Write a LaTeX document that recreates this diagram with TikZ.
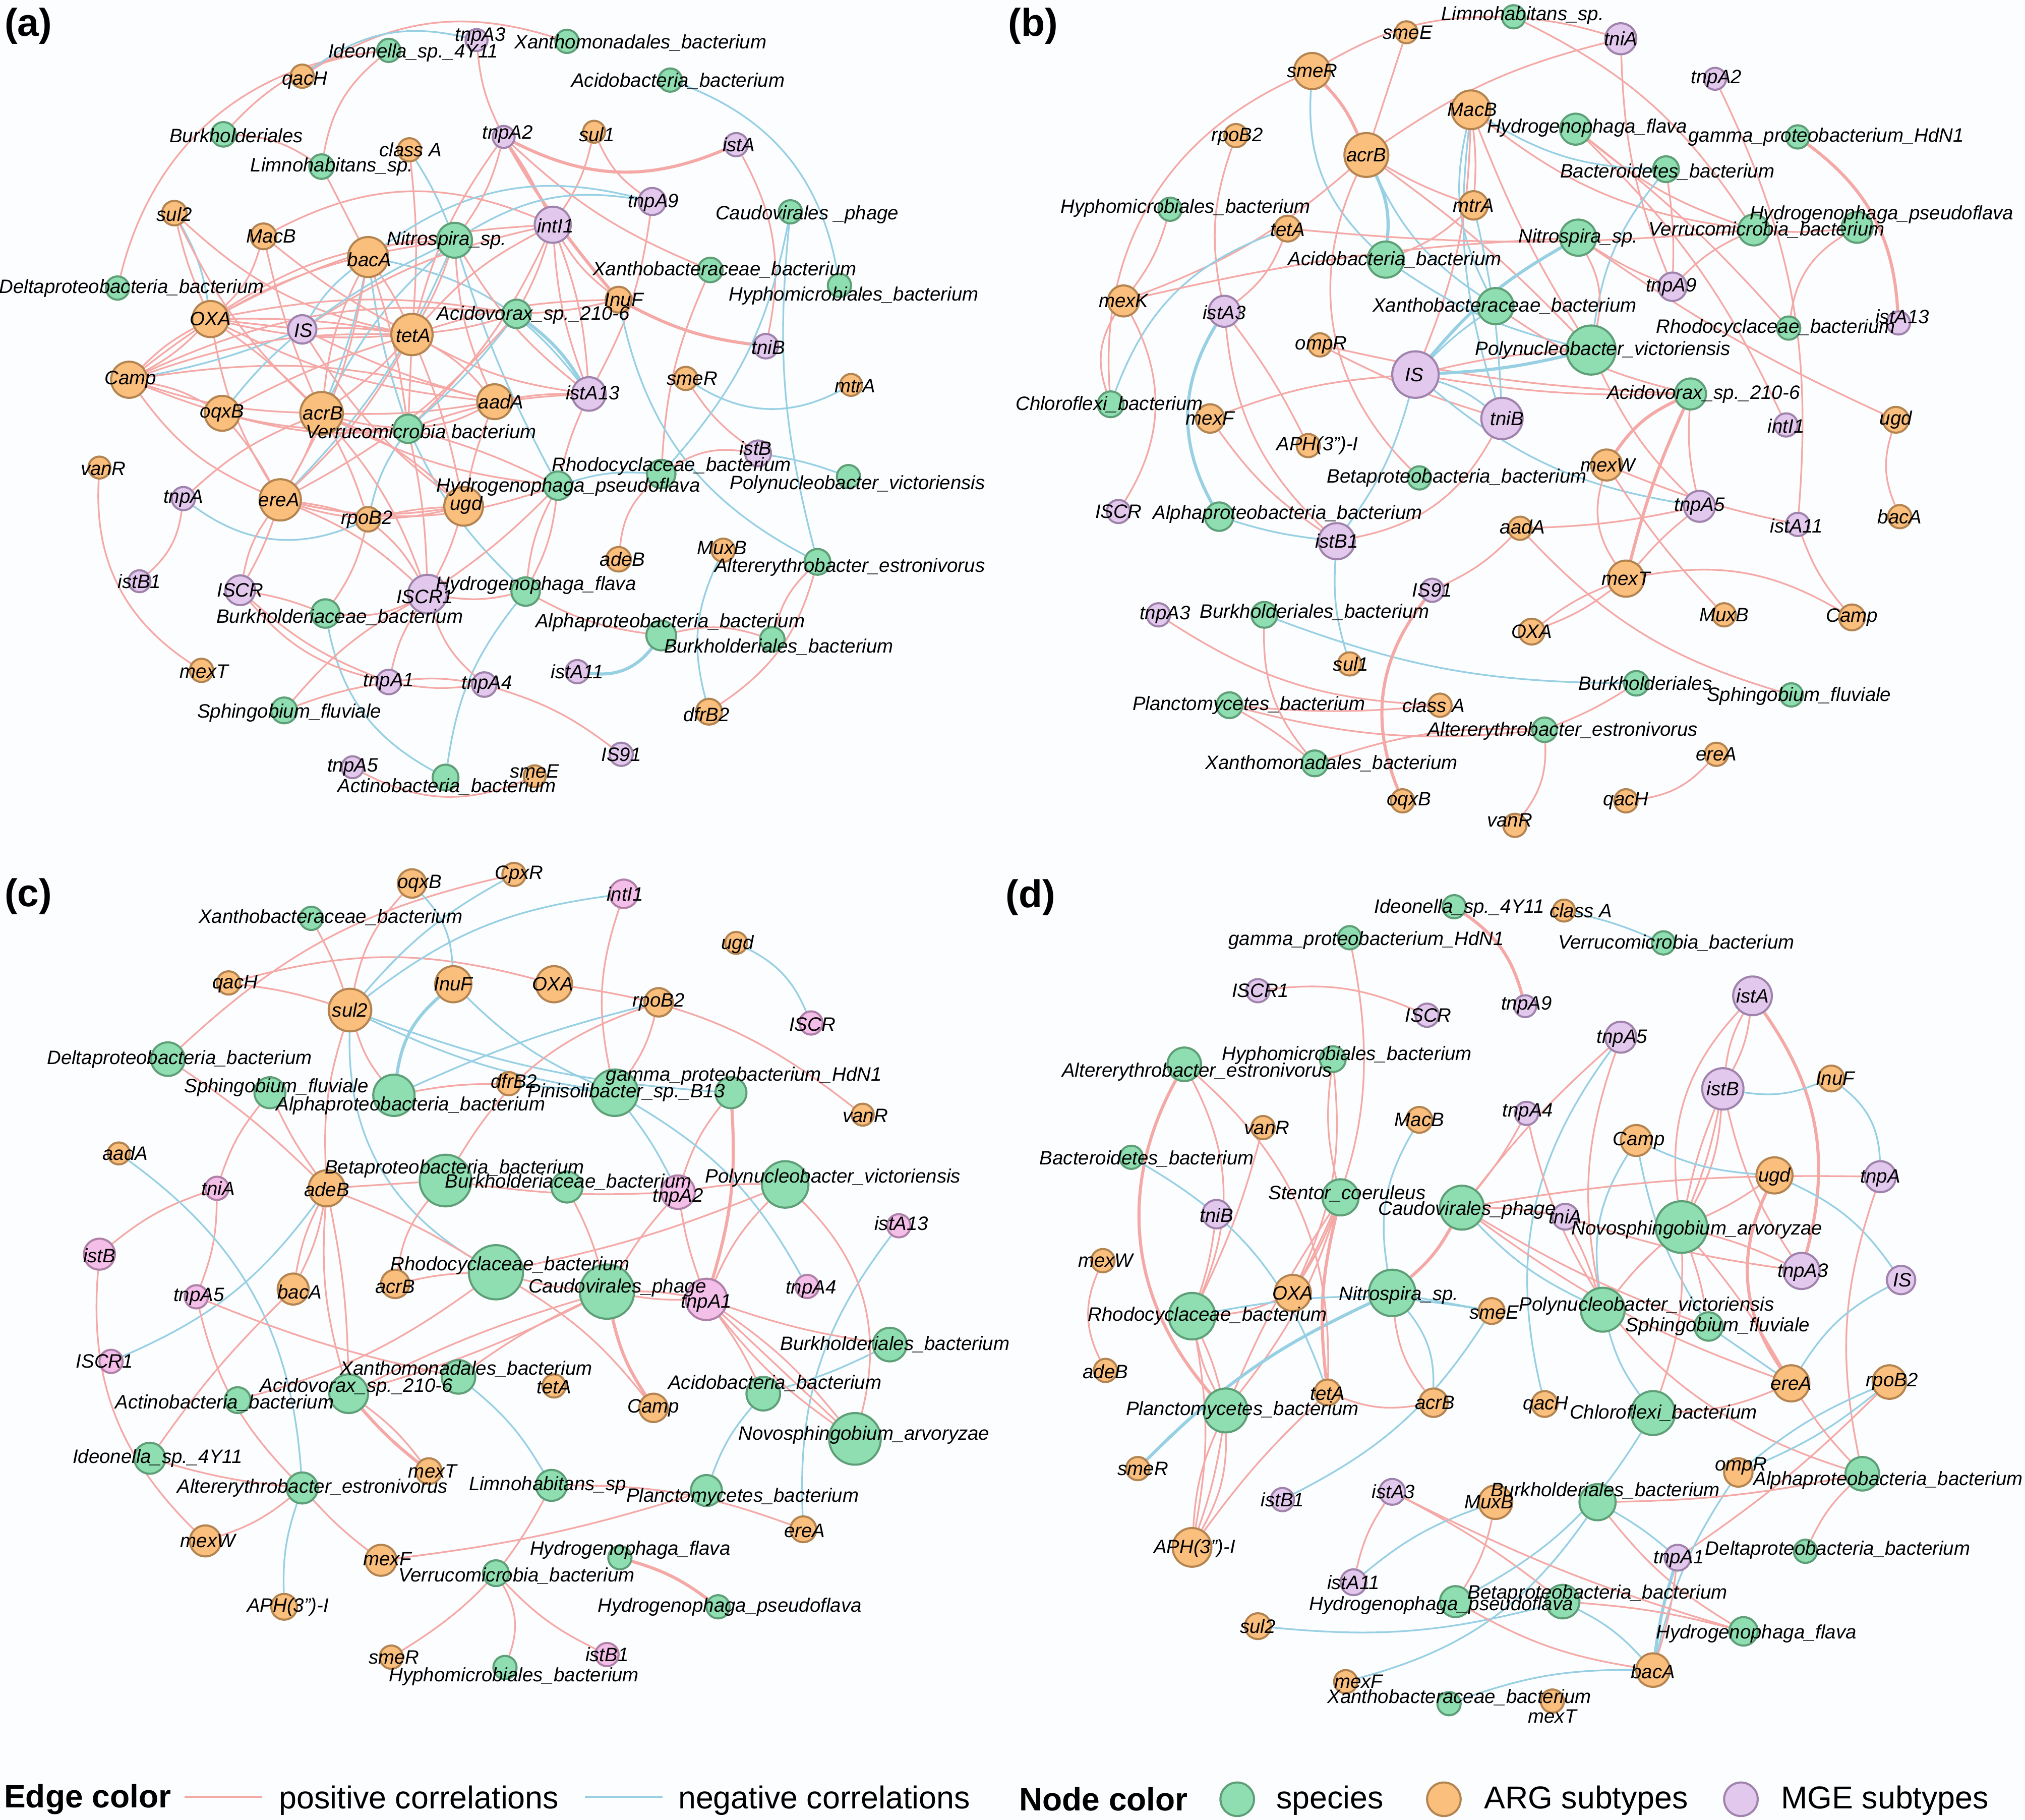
\documentclass[tikz,border=0pt]{standalone}
\usepackage{fontspec}
\setmainfont{Liberation Sans}
\definecolor{spf}{HTML}{8EDEB1}\definecolor{spb}{HTML}{5E9F78}
\definecolor{argf}{HTML}{FABE7D}\definecolor{argb}{HTML}{B48450}
\definecolor{mgef}{HTML}{E2C8EC}\definecolor{mgeb}{HTML}{A083AC}
\definecolor{mgecf}{HTML}{F3BEE8}\definecolor{mgecb}{HTML}{B080A8}
\definecolor{posc}{HTML}{F5A9A6}\definecolor{negc}{HTML}{97CFE3}
\definecolor{bgc}{HTML}{FBFDFE}
\pgfdeclarelayer{bglayer}\pgfdeclarelayer{edgelayer}\pgfdeclarelayer{labellayer}
\pgfsetlayers{bglayer,edgelayer,main,labellayer}
\newcommand\lblfont{\fontsize{15}{15}\selectfont\itshape}
\tikzset{
 base/.style={circle,inner sep=0pt,line width=1.6pt},
 spS/.style={base,draw=spb,fill=spf},
 spA/.style={base,draw=argb,fill=argf},
 spM/.style={base,draw=mgeb,fill=mgef},
 spMc/.style={base,draw=mgecb,fill=mgecf},
 lbl/.style={font=\lblfont,inner sep=0pt},
 pe/.style={draw=posc,line width=1.3pt},
 ne/.style={draw=negc,line width=1.3pt},
 pet/.style={draw=posc,line width=2.4pt},
 net/.style={draw=negc,line width=2.4pt},
 legtxt/.style={font=\fontsize{24.5}{25}\selectfont,anchor=west,inner sep=0pt},
 legbold/.style={font=\fontsize{25}{25}\selectfont\bfseries,anchor=west,inner sep=0pt},
 panel/.style={font=\fontsize{30}{30}\selectfont\bfseries,inner sep=0pt}
}
\newcommand\nd[8]{%
 \node[#2,minimum size=#5pt] (#1) at (#3,#4) {};
 \begin{pgfonlayer}{labellayer}\node[lbl] (#1-l) at (#7,#8) {#6};\end{pgfonlayer}}
\newcommand\eP[3]{\draw[pe] (#1) to[bend left=#3] (#2);}
\newcommand\eN[3]{\draw[ne] (#1) to[bend left=#3] (#2);}
\newcommand\ePT[3]{\draw[pet] (#1) to[bend left=#3] (#2);}
\newcommand\eNT[3]{\draw[net] (#1) to[bend left=#3] (#2);}
\begin{document}
\begin{tikzpicture}[x=1pt,y=-1pt]
\useasboundingbox (0,0) rectangle (1568,1409);
\begin{pgfonlayer}{bglayer}\fill[bgc] (0,0) rectangle (1568,1409);\end{pgfonlayer}
% ---------------- panel (a) ----------------
\node[panel] (pa) at (22,20) {(a)};
\nd{atnpAiii}{spM}{369}{31}{17}{tnpA3}{372}{28}
\nd{aIdeo}{spS}{301}{39}{18}{Ideonella\_sp.\_4Y11}{320}{41}
\nd{aXanthom}{spS}{439}{32}{18}{Xanthomonadales\_bacterium}{496}{33}
\nd{aqacH}{spA}{234}{59}{18}{qacH}{236}{62}
\nd{aAcido}{spS}{519}{62}{18}{Acidobacteria\_bacterium}{525}{63}
\nd{aBurkh}{spS}{173}{104}{19}{Burkholderiales}{183}{105}
\nd{aclassA}{spA}{317}{116}{18}{class A}{318}{116}
\nd{atnpAii}{spM}{390}{106}{17}{tnpA2}{393}{104}
\nd{asuli}{spA}{460}{102}{17}{sul1}{462}{104}
\nd{aistA}{spM}{570}{112}{18}{istA}{572}{112}
\nd{aLimno}{spS}{249}{129}{19}{Limnohabitans\_sp.}{257}{129}
\nd{atnpAix}{spM}{505}{156}{21}{tnpA9}{506}{157}
\nd{asulii}{spA}{135}{165}{19}{sul2}{135}{166}
\nd{aMacB}{spA}{204}{183}{20}{MacB}{210}{183}
\nd{aintI}{spM}{428}{174}{28}{intI1}{430}{175}
\nd{aCaudo}{spS}{612}{164}{18}{Caudovirales \_phage}{625}{166}
\nd{abacA}{spA}{285}{199}{31}{bacA}{286}{201}
\nd{aNitro}{spS}{352}{186}{27}{Nitrospira\_sp.}{346}{186}
\nd{aDelta}{spS}{91}{223}{18}{Deltaproteobacteria\_bacterium}{102}{223}
\nd{aXanthob}{spS}{550}{209}{19}{Xanthobacteraceae\_bacterium}{561}{209}
\nd{aHyph}{spS}{650}{221}{18}{Hyphomicrobiales\_bacterium}{661}{229}
\nd{aOXA}{spA}{163}{247}{28}{OXA}{163}{247}
\nd{aIS}{spM}{234}{255}{22}{IS}{235}{256}
\nd{atetA}{spA}{319}{259}{32}{tetA}{320}{260}
\nd{aAcidov}{spS}{400}{243}{22}{Acidovorax\_sp.\_210-6}{413}{244}
\nd{aInuF}{spA}{479}{232}{20}{InuF}{483}{232}
\nd{atniB}{spM}{593}{268}{19}{tniB}{595}{269}
\nd{aCamp}{spA}{100}{294}{28}{Camp}{101}{294}
\nd{aoqxB}{spA}{172}{320}{27}{oqxB}{172}{320}
\nd{aacrB}{spA}{249}{320}{33}{acrB}{250}{320}
\nd{aaadA}{spA}{383}{311}{27}{aadA}{388}{311}
\nd{aistAxiii}{spM}{456}{305}{26}{istA13}{459}{304}
\nd{asmeR}{spA}{531}{293}{18}{smeR}{536}{293}
\nd{amtrA}{spA}{659}{298}{17}{mtrA}{662}{299}
\nd{aVerru}{spS}{316}{332}{22}{Verrucomicrobia bacterium}{326}{334}
\nd{avanR}{spA}{77}{362}{17}{vanR}{80}{363}
\nd{atnpA}{spM}{142}{386}{18}{tnpA}{142}{386}
\nd{aereA}{spA}{217}{387}{32}{ereA}{216}{387}
\nd{arpoBii}{spA}{285}{402}{19}{rpoB2}{284}{402}
\nd{augd}{spA}{359}{392}{30}{ugd}{361}{391}
\nd{aHpseudo}{spS}{432}{376}{22}{Hydrogenophaga\_pseudoflava}{440}{377}
\nd{aRhodo}{spS}{512}{367}{22}{Rhodocyclaceae\_bacterium}{520}{361}
\nd{aistB}{spM}{587}{351}{20}{istB}{585}{347}
\nd{aPoly}{spS}{657}{369}{18}{Polynucleobacter\_victoriensis}{664}{375}
\nd{aistBi}{spM}{108}{450}{17}{istB1}{108}{450}
\nd{aISCR}{spM}{186}{457}{23}{ISCR}{186}{457}
\nd{aISCRi}{spM}{331}{460}{30}{ISCR1}{329}{462}
\nd{aBurkhc}{spS}{252}{475}{22}{Burkholderiaceae\_bacterium}{263}{478}
\nd{aHflava}{spS}{407}{458}{22}{Hydrogenophaga\_flava}{415}{453}
\nd{aadeB}{spA}{479}{433}{19}{adeB}{482}{433}
\nd{aMuxB}{spA}{560}{426}{18}{MuxB}{559}{424}
\nd{aAlter}{spS}{633}{435}{20}{Altererythrobacter\_estronivorus}{658}{439}
\nd{aAlpha}{spS}{512}{492}{23}{Alphaproteobacteria\_bacterium}{519}{482}
\nd{aBurkhb}{spS}{598}{495}{19}{Burkholderiales\_bacterium}{603}{501}
\nd{amexT}{spA}{156}{519}{18}{mexT}{158}{520}
\nd{atnpAi}{spM}{301}{528}{19}{tnpA1}{301}{528}
\nd{atnpAiv}{spM}{375}{530}{19}{tnpA4}{377}{530}
\nd{aistAxi}{spM}{447}{520}{18}{istA11}{447}{520}
\nd{adfrBii}{spA}{549}{551}{20}{dfrB2}{547}{553}
\nd{aSphingo}{spS}{220}{550}{20}{Sphingobium\_fluviale}{224}{552}
\nd{aISxci}{spM}{481}{584}{18}{IS91}{481}{584}
\nd{atnpAv}{spM}{273}{594}{17}{tnpA5}{273}{594}
\nd{aActino}{spS}{345}{602}{20}{Actinobacteria\_bacterium}{346}{609}
\nd{asmeE}{spA}{414}{601}{17}{smeE}{414}{597}
\begin{pgfonlayer}{edgelayer}
\eP{aDelta}{aIdeo}{35}\eP{aBurkh}{aIdeo}{20}\eP{aqacH}{aXanthom}{25}\eN{aqacH}{atnpAiii}{25}
\eN{aAcido}{aHyph}{30}\eP{aIdeo}{aLimno}{-20}\eP{atnpAiii}{atnpAii}{-10}\eP{aBurkh}{aLimno}{15}
\eP{aLimno}{abacA}{0}\eN{aclassA}{aNitro}{5}\eP{aclassA}{atetA}{5}
\eN{asulii}{aOXA}{10}\eP{asulii}{aOXA}{-5}\eP{asulii}{atetA}{-15}
\eP{aMacB}{aOXA}{15}\eP{aMacB}{aacrB}{-5}\eP{aMacB}{aintI}{25}
\ePT{atnpAii}{aistA}{-25}\eP{aistA}{atniB}{20}\ePT{aInuF}{atniB}{-10}
\eP{asuli}{atnpAix}{-15}\eP{asuli}{aintI}{10}
\eP{atnpAii}{aintI}{5}\eP{atnpAii}{aXanthob}{-10}\ePT{atnpAii}{aInuF}{-5}
\eN{aNitro}{atnpAix}{20}\eN{abacA}{atnpAix}{25}\eP{atnpAix}{aistAxiii}{10}
\eP{aXanthob}{aRhodo}{-10}\eP{aRhodo}{aadeB}{-20}\eP{asmeR}{aistB}{-10}
\eN{aInuF}{aAlter}{-25}\eN{aistB}{aPoly}{5}\eP{aRhodo}{aistB}{20}
\eN{aHpseudo}{aRhodo}{10}\eN{aCaudo}{aRhodo}{15}\eN{asmeR}{amtrA}{-30}\eN{aCaudo}{aAlter}{-10}
\eN{aMuxB}{adfrBii}{-20}\eP{aAlter}{adfrBii}{20}\eP{aAlter}{aBurkhb}{-15}\eP{aAlpha}{aBurkhb}{15}
\eNT{aAlpha}{aistAxi}{30}\eP{aHflava}{aAlpha}{-10}\eP{atnpAiv}{aISxci}{10}
\eP{aHpseudo}{aHflava}{10}\eP{aHpseudo}{aHflava}{-10}
\eN{aHflava}{aActino}{-15}\eN{aBurkhc}{aActino}{-25}\eP{atnpAv}{asmeE}{-25}
\eP{avanR}{amexT}{-30}\eP{atnpA}{aistBi}{20}\eN{atnpA}{arpoBii}{-30}\eP{atnpA}{aacrB}{10}
\eP{aereA}{aISCR}{5}\eP{aereA}{aISCR}{-12}
\eP{aISCR}{atnpAi}{-10}\eP{aISCR}{atnpAi}{-18}\eP{aISCR}{aBurkhc}{5}
\eP{aSphingo}{aISCRi}{10}\eP{aSphingo}{atnpAi}{5}
\eP{atnpAi}{atnpAiv}{8}\eP{atnpAi}{atnpAiv}{-8}\eP{atnpAi}{aISCRi}{10}\eP{aISCRi}{atnpAiv}{-15}
\eP{aBurkhc}{arpoBii}{-10}\eP{arpoBii}{aISCRi}{10}\eP{aereA}{arpoBii}{-5}\eP{aereA}{arpoBii}{5}
\eP{arpoBii}{augd}{5}\eP{arpoBii}{augd}{-5}\eP{augd}{aISCRi}{5}\eP{aISCRi}{aBurkhc}{15}
\eP{aISCRi}{aHflava}{-10}\eN{arpoBii}{aVerru}{10}\eN{aVerru}{aHflava}{-10}
\eP{aOXA}{aIS}{0}\eP{aOXA}{atetA}{-8}\eP{aOXA}{atetA}{5}\eP{aOXA}{aCamp}{8}\eP{aOXA}{aCamp}{-8}
\eP{aOXA}{aacrB}{5}\eP{aOXA}{aereA}{-10}\eP{aOXA}{aaadA}{-10}\eP{aOXA}{aNitro}{15}
\eN{aCamp}{aIS}{-5}\eP{aCamp}{atetA}{10}\eP{aCamp}{aacrB}{-8}\eP{aCamp}{aereA}{-15}
\eP{aCamp}{aoqxB}{10}\eP{aCamp}{aaadA}{12}\eP{aCamp}{aVerru}{-12}
\eN{abacA}{aIS}{-10}\eN{aoqxB}{aIS}{5}\eN{abacA}{aacrB}{5}\eN{abacA}{aVerru}{-5}\eN{abacA}{aistAxiii}{20}
\eN{aNitro}{aacrB}{-10}\eN{aNitro}{aereA}{10}
\eP{aNitro}{atetA}{5}\eP{aNitro}{aCamp}{-15}\eP{aNitro}{aaadA}{-10}\eP{aNitro}{aistAxiii}{-10}\eN{aNitro}{aHpseudo}{-5}
\eP{aintI}{atetA}{-10}\eP{aintI}{aistAxiii}{-8}\eP{aintI}{aistAxiii}{8}\eP{aintI}{aVerru}{10}
\eP{aintI}{aIS}{-10}\eP{aintI}{aInuF}{-10}\eP{aintI}{aAcidov}{5}\eP{aintI}{aOXA}{-12}
\eP{atetA}{aacrB}{5}\eP{atetA}{aereA}{8}\eP{atetA}{aoqxB}{-5}\eP{atetA}{aaadA}{10}
\eP{atetA}{aistAxiii}{-10}\eP{atetA}{augd}{5}\eP{atetA}{aVerru}{0}
\eP{aacrB}{aereA}{5}\eP{aacrB}{aaadA}{-5}\eP{aacrB}{augd}{10}\eP{aacrB}{aVerru}{-5}
\eP{aacrB}{aHpseudo}{-10}\eP{aacrB}{aISCRi}{10}\eP{aacrB}{arpoBii}{5}
\eP{aaadA}{aistAxiii}{5}\eP{aaadA}{aVerru}{10}\eP{aaadA}{augd}{-5}
\eNT{aAcidov}{aistAxiii}{10}\eN{aAcidov}{aVerru}{5}
\eP{aereA}{augd}{-10}\eP{aereA}{aHpseudo}{-15}\eP{aereA}{aISCRi}{10}\eP{asulii}{aacrB}{-10}
\eP{abacA}{atetA}{5}\eP{abacA}{aereA}{10}\eP{abacA}{aacrB}{-10}\eP{abacA}{aVerru}{5}
\eP{atnpAii}{aNitro}{10}\eP{atnpAii}{atetA}{-10}
\eP{aIS}{atetA}{5}\eP{aIS}{aaadA}{-5}\eP{aIS}{augd}{-10}
\eP{aHpseudo}{aISCRi}{5}\eP{aHpseudo}{aVerru}{-5}\eP{aHpseudo}{aistAxiii}{5}\eP{aistAxiii}{aVerru}{-8}
\eP{aAcidov}{aOXA}{-10}\eP{aAcidov}{aCamp}{-15}\eP{aAcidov}{atetA}{5}\eP{aAcidov}{aereA}{10}
\eP{aInuF}{aAcidov}{5}\eP{aInuF}{atetA}{-8}\eP{aoqxB}{aereA}{5}\eP{aoqxB}{aVerru}{-10}
\eP{aMacB}{atetA}{-5}\eN{aIS}{aNitro}{5}\eP{aVerru}{aISCRi}{5}
\end{pgfonlayer}
% ---------------- panel (b) ----------------
\node[panel] (pb) at (800,20) {(b)};
\nd{bsmeE}{spA}{1089}{25}{17}{smeE}{1090}{25}
\nd{bLimno}{spS}{1172}{13}{18}{Limnohabitans\_sp.}{1179}{12}
\nd{btniA}{spM}{1255}{30}{24}{tniA}{1255}{30}
\nd{bsmeR}{spA}{1016}{55}{28}{smeR}{1016}{55}
\nd{btnpAii}{spM}{1328}{61}{17}{tnpA2}{1329}{61}
\nd{bMacB}{spA}{1139}{85}{30}{MacB}{1140}{85}
\nd{bHflava}{spS}{1220}{100}{24}{Hydrogenophaga\_flava}{1229}{99}
\nd{bgamma}{spS}{1392}{106}{18}{gamma\_proteobacterium\_HdN1}{1414}{106}
\nd{brpoBii}{spA}{957}{105}{18}{rpoB2}{958}{106}
\nd{bacrB}{spA}{1058}{120}{34}{acrB}{1058}{120}
\nd{bBactero}{spS}{1290}{131}{20}{Bacteroidetes\_bacterium}{1291}{133}
\nd{bHyph}{spS}{906}{162}{18}{Hyphomicrobiales\_bacterium}{918}{161}
\nd{bmtrA}{spA}{1141}{159}{22}{mtrA}{1141}{159}
\nd{btetA}{spA}{997}{177}{20}{tetA}{997}{178}
\nd{bNitro}{spS}{1222}{184}{28}{Nitrospira\_sp.}{1222}{184}
\nd{bVerru}{spS}{1358}{178}{24}{Verrucomicrobia\_bacterium}{1368}{178}
\nd{bHpseudo}{spS}{1438}{176}{24}{Hydrogenophaga\_pseudoflava}{1457}{166}
\nd{bAcido}{spS}{1073}{201}{28}{Acidobacteria\_bacterium}{1080}{201}
\nd{btnpAix}{spM}{1295}{222}{22}{tnpA9}{1294}{222}
\nd{bmexK}{spA}{870}{233}{24}{mexK}{870}{233}
\nd{bistAiii}{spM}{948}{241}{24}{istA3}{948}{242}
\nd{bXanthob}{spS}{1158}{237}{28}{Xanthobacteraceae\_bacterium}{1165}{237}
\nd{bRhodo}{spS}{1385}{254}{18}{Rhodocyclaceae\_bacterium}{1375}{254}
\nd{bistAxiii}{spM}{1470}{250}{18}{istA13}{1473}{245}
\nd{bompR}{spA}{1022}{267}{18}{ompR}{1023}{267}
\nd{bPoly}{spS}{1232}{271}{38}{Polynucleobacter\_victoriensis}{1241}{271}
\nd{bIS}{spM}{1096}{290}{36}{IS}{1095}{290}
\nd{bAcidov}{spS}{1309}{305}{24}{Acidovorax\_sp.\_210-6}{1319}{305}
\nd{bChloro}{spS}{860}{313}{20}{Chloroflexi\_bacterium}{859}{313}
\nd{bmexF}{spA}{937}{324}{22}{mexF}{937}{324}
\nd{btniB}{spM}{1163}{324}{32}{tniB}{1167}{324}
\nd{bugd}{spA}{1468}{325}{20}{ugd}{1468}{325}
\nd{bintI}{spM}{1383}{329}{18}{intI1}{1383}{330}
\nd{bAPH}{spA}{1013}{345}{18}{APH(3")-I}{1020}{345}
\nd{bmexW}{spA}{1244}{360}{24}{mexW}{1245}{360}
\nd{bBeta}{spS}{1099}{370}{18}{Betaproteobacteria\_bacterium}{1128}{370}
\nd{bISCR}{spM}{866}{396}{18}{ISCR}{866}{396}
\nd{bAlpha}{spS}{944}{400}{22}{Alphaproteobacteria\_bacterium}{997}{398}
\nd{btnpAv}{spM}{1316}{392}{24}{tnpA5}{1316}{392}
\nd{bbacA}{spA}{1471}{400}{18}{bacA}{1471}{400}
\nd{bistAxi}{spM}{1392}{406}{18}{istA11}{1391}{407}
\nd{baadA}{spA}{1177}{409}{18}{aadA}{1179}{408}
\nd{bistBi}{spM}{1035}{419}{28}{istB1}{1035}{419}
\nd{bmexT}{spA}{1259}{448}{28}{mexT}{1259}{448}
\nd{bISxci}{spM}{1109}{457}{18}{IS91}{1109}{457}
\nd{btnpAiii}{spM}{897}{476}{18}{tnpA3}{902}{476}
\nd{bBurkhb}{spS}{979}{476}{20}{Burkholderiales\_bacterium}{1018}{474}
\nd{bMuxB}{spA}{1335}{476}{18}{MuxB}{1335}{476}
\nd{bCamp}{spA}{1434}{478}{20}{Camp}{1434}{478}
\nd{bOXA}{spA}{1186}{489}{20}{OXA}{1186}{489}
\nd{bsuli}{spA}{1045}{514}{18}{sul1}{1046}{514}
\nd{bBurkh}{spS}{1267}{529}{19}{Burkholderiales}{1274}{529}
\nd{bSphingo}{spS}{1387}{538}{18}{Sphingobium\_fluviale}{1393}{539}
\nd{bPlancto}{spS}{952}{546}{20}{Planctomycetes\_bacterium}{967}{546}
\nd{bclassA}{spA}{1115}{546}{18}{class A}{1110}{546}
\nd{bAlter}{spS}{1196}{565}{19}{Altererythrobacter\_estronivorus}{1210}{566}
\nd{bereA}{spA}{1329}{584}{18}{ereA}{1329}{584}
\nd{bXanthom}{spS}{1018}{591}{20}{Xanthomonadales\_bacterium}{1031}{591}
\nd{boqxB}{spA}{1086}{620}{18}{oqxB}{1091}{620}
\nd{bqacH}{spA}{1259}{620}{18}{qacH}{1259}{620}
\nd{bvanR}{spA}{1173}{639}{18}{vanR}{1169}{635}
\begin{pgfonlayer}{edgelayer}
\eP{bsmeR}{bLimno}{15}\eP{bsmeR}{bChloro}{-35}\eN{bsmeR}{bAcido}{-25}\ePT{bsmeR}{bacrB}{10}
\eP{bsmeE}{bacrB}{0}\eP{bacrB}{bBeta}{-35}\eP{bacrB}{btniA}{10}\eP{bmexK}{bacrB}{-10}
\eNT{bacrB}{bAcido}{15}\eN{bacrB}{bXanthob}{-15}\eP{bacrB}{bPoly}{5}\eP{bacrB}{bmtrA}{-5}
\eN{bMacB}{bXanthob}{-20}\eN{bMacB}{btniB}{-12}\eP{bMacB}{bmtrA}{5}
\eP{bMacB}{bIS}{10}\eP{bMacB}{bPoly}{-5}\eP{bMacB}{bVerru}{-15}
\eP{brpoBii}{bistAiii}{-15}\eP{bmexK}{bHyph}{-10}\eN{bChloro}{btetA}{25}\eP{bmexK}{bNitro}{5}
\eP{btetA}{bistAiii}{15}\eP{btetA}{bVerru}{-5}\eP{bChloro}{bmexK}{25}\eP{bmexK}{bISCR}{30}
\eNT{bistAiii}{bAlpha}{-30}\eN{bAlpha}{bistBi}{-5}\eP{bistAiii}{bistBi}{-20}\eP{bistAiii}{bAPH}{5}
\eP{bmexF}{bistBi}{-10}\eP{bmexF}{bIS}{8}\eP{bompR}{btniB}{-5}\eP{bompR}{bAcidov}{-5}
\eN{bIS}{bistBi}{10}\eN{bIS}{bXanthob}{5}\eNT{bIS}{bPoly}{-5}\eN{bIS}{btniB}{10}\eN{bIS}{btnpAv}{-15}
\eP{bIS}{bPoly}{5}\eP{btniB}{bistBi}{25}\eN{bistBi}{bsuli}{-10}\eP{bIS}{bAcidov}{-5}
\eN{bBurkhb}{bBurkh}{-10}\eP{bBurkhb}{bXanthom}{-20}\eP{btnpAiii}{bclassA}{-15}
\eP{bPlancto}{bAlter}{-10}\eP{bPlancto}{bXanthom}{5}\eP{bPlancto}{bclassA}{-5}\eP{bXanthom}{bAlter}{10}
\ePT{bISxci}{boqxB}{-30}\eP{bISxci}{baadA}{-10}\eP{baadA}{bSphingo}{-15}
\eP{bOXA}{bmexT}{8}\eP{bOXA}{bmexT}{-8}\eP{bBurkh}{bAlter}{5}\eP{bAlter}{bvanR}{20}\eP{bereA}{bqacH}{20}
\ePT{bmexT}{bAcidov}{5}\eP{bmexT}{btnpAv}{5}\eP{bmexT}{bCamp}{20}\eP{bmexW}{bmexT}{-25}
\eP{bmexW}{bMuxB}{-5}\ePT{bmexW}{bAcidov}{15}\eP{bmexW}{bistAxi}{-5}
\eP{baadA}{btnpAv}{-5}\eP{btnpAv}{bAcidov}{8}\eP{bistAxi}{bCamp}{-10}
\eP{btnpAii}{bistAxi}{15}\ePT{bgamma}{bistAxiii}{25}\eP{bugd}{bbacA}{-20}\eP{bNitro}{bugd}{-5}
\eP{bintI}{bHflava}{-10}\eP{bHpseudo}{bRhodo}{-25}\eP{bVerru}{btnpAix}{-10}\eP{bVerru}{bHpseudo}{-5}
\eP{btniA}{btnpAix}{-10}\eP{bLimno}{btniA}{5}\eP{bHflava}{bVerru}{-10}\eP{bBactero}{btnpAix}{5}
\eN{bMacB}{bBactero}{-15}\eN{bBactero}{bPoly}{-15}\eNT{bNitro}{bIS}{-10}\eP{bNitro}{bPoly}{20}
\eP{bPoly}{btnpAv}{-10}\eP{bNitro}{btnpAix}{-5}\eP{bLimno}{bVerru}{15}\eN{bAcido}{bPoly}{-10}
\eN{bmtrA}{btniB}{5}\eP{bmtrA}{bAcido}{10}\eP{bHflava}{bRhodo}{5}\eP{bXanthob}{bAcidov}{-10}
\end{pgfonlayer}
% ---------------- panel (c) ----------------
\node[panel] (pc) at (22,694) {(c)};
\nd{coqxB}{spA}{319}{684}{22}{oqxB}{325}{684}
\nd{cCpxR}{spA}{398}{677}{18}{CpxR}{402}{677}
\nd{cintI}{spMc}{483}{692}{22}{intI1}{484}{692}
\nd{cXanthob}{spS}{241}{711}{18}{Xanthobacteraceae\_bacterium}{256}{710}
\nd{cqacH}{spA}{177}{761}{18}{qacH}{182}{762}
\nd{csulii}{spA}{271}{782}{33}{sul2}{271}{782}
\nd{cInuF}{spA}{351}{762}{28}{InuF}{351}{762}
\nd{cOXA}{spA}{429}{762}{28}{OXA}{428}{762}
\nd{cugd}{spA}{570}{730}{17}{ugd}{571}{731}
\nd{crpoBii}{spA}{510}{776}{22}{rpoB2}{510}{776}
\nd{cISCR}{spMc}{628}{792}{18}{ISCR}{629}{793}
\nd{cDelta}{spS}{130}{820}{26}{Deltaproteobacteria\_bacterium}{139}{820}
\nd{cSphingo}{spS}{209}{846}{24}{Sphingobium\_fluviale}{214}{842}
\nd{cAlpha}{spS}{305}{848}{32}{Alphaproteobacteria\_bacterium}{318}{856}
\nd{cdfrBii}{spA}{394}{839}{18}{dfrB2}{398}{837}
\nd{cgamma}{spS}{566}{846}{24}{gamma\_proteobacterium\_HdN1}{576}{833}
\nd{cPini}{spS}{476}{846}{36}{Pinisolibacter\_sp.\_B13}{485}{846}
\nd{cvanR}{spA}{668}{863}{17}{vanR}{670}{864}
\nd{caadA}{spA}{92}{893}{17}{aadA}{97}{893}
\nd{ctniA}{spMc}{168}{920}{18}{tniA}{169}{920}
\nd{cadeB}{spA}{253}{920}{28}{adeB}{253}{921}
\nd{cBeta}{spS}{345}{914}{40}{Betaproteobacteria\_bacterium}{352}{905}
\nd{cBurkhc}{spS}{439}{919}{24}{Burkholderiaceae\_bacterium}{440}{915}
\nd{ctnpAii}{spMc}{525}{923}{26}{tnpA2}{525}{927}
\nd{cPoly}{spS}{608}{917}{36}{Polynucleobacter\_victoriensis}{645}{912}
\nd{cistAxiii}{spMc}{696}{949}{18}{istA13}{698}{947}
\nd{cistB}{spMc}{77}{971}{24}{istB}{77}{972}
\nd{cbacA}{spA}{227}{998}{24}{bacA}{232}{1000}
\nd{cRhodo}{spS}{384}{985}{42}{Rhodocyclaceae\_bacterium}{395}{980}
\nd{cacrB}{spA}{306}{994}{22}{acrB}{306}{996}
\nd{cCaudo}{spS}{470}{1000}{42}{Caudovirales\_phage}{478}{997}
\nd{ctnpAi}{spMc}{547}{1006}{32}{tnpA1}{547}{1009}
\nd{ctnpAiv}{spMc}{625}{996}{18}{tnpA4}{628}{998}
\nd{ctnpAv}{spMc}{152}{1004}{18}{tnpA5}{154}{1004}
\nd{cISCRi}{spMc}{86}{1054}{18}{ISCR1}{81}{1054}
\nd{cBurkhb}{spS}{689}{1041}{26}{Burkholderiales\_bacterium}{693}{1041}
\nd{cXanthom}{spS}{355}{1066}{26}{Xanthomonadales\_bacterium}{361}{1060}
\nd{cAcidov}{spS}{270}{1079}{30}{Acidovorax\_sp.\_210-6}{276}{1074}
\nd{cActino}{spS}{184}{1084}{20}{Actinobacteria\_bacterium}{174}{1086}
\nd{ctetA}{spA}{429}{1073}{18}{tetA}{429}{1074}
\nd{cCamp}{spA}{506}{1090}{22}{Camp}{506}{1090}
\nd{cAcido}{spS}{591}{1079}{26}{Acidobacteria\_bacterium}{600}{1071}
\nd{cNovo}{spS}{662}{1114}{40}{Novosphingobium\_arvoryzae}{669}{1111}
\nd{cIdeo}{spS}{116}{1129}{24}{Ideonella\_sp.\_4Y11}{122}{1129}
\nd{cmexT}{spA}{332}{1139}{20}{mexT}{335}{1139}
\nd{cAlter}{spS}{234}{1152}{24}{Altererythrobacter\_estronivorus}{242}{1152}
\nd{cLimno}{spS}{427}{1150}{24}{Limnohabitans\_sp}{424}{1150}
\nd{cPlancto}{spS}{547}{1154}{24}{Planctomycetes\_bacterium}{575}{1159}
\nd{cereA}{spA}{622}{1184}{20}{ereA}{623}{1185}
\nd{cmexW}{spA}{159}{1193}{24}{mexW}{161}{1193}
\nd{cmexF}{spA}{295}{1208}{24}{mexF}{300}{1207}
\nd{cHflava}{spS}{480}{1206}{18}{Hydrogenophaga\_flava}{488}{1200}
\nd{cVerru}{spS}{384}{1218}{20}{Verrucomicrobia\_bacterium}{400}{1220}
\nd{cAPH}{spA}{220}{1244}{20}{APH(3")-I}{223}{1244}
\nd{cHpseudo}{spS}{556}{1244}{18}{Hydrogenophaga\_pseudoflava}{565}{1244}
\nd{csmeR}{spA}{303}{1283}{18}{smeR}{305}{1283}
\nd{cHyph}{spS}{391}{1291}{18}{Hyphomicrobiales\_bacterium}{398}{1298}
\nd{cistBi}{spMc}{470}{1281}{18}{istB1}{470}{1281}
\begin{pgfonlayer}{edgelayer}
\eP{cXanthob}{csulii}{5}\eP{csulii}{coqxB}{15}\eP{cqacH}{csulii}{5}\eP{cqacH}{cOXA}{15}
\eP{cDelta}{cCpxR}{15}\eP{cDelta}{cadeB}{5}\eN{csulii}{cCpxR}{10}\eN{coqxB}{cInuF}{20}
\eNT{cInuF}{cAlpha}{-20}\eP{csulii}{cAlpha}{-10}\eN{csulii}{cgamma}{-8}\eN{csulii}{cPini}{-8}
\eN{csulii}{cRhodo}{-30}\eP{csulii}{cadeB}{-10}\eP{cAlpha}{cdfrBii}{5}
\eP{cSphingo}{ctniA}{-10}\eP{cSphingo}{cadeB}{-5}\eP{ctniA}{cistB}{-10}\eP{ctniA}{ctnpAv}{10}
\eN{caadA}{cAlter}{25}\eP{cistB}{cmexW}{-25}\eN{cISCRi}{cadeB}{-15}
\eP{ctnpAv}{cXanthom}{-5}\eP{ctnpAv}{cAlter}{-15}\eP{cbacA}{cIdeo}{-5}
\eP{cbacA}{cadeB}{8}\eP{cbacA}{cadeB}{-8}\eP{cadeB}{cAcidov}{-10}\eP{cadeB}{cAcidov}{5}
\eP{cadeB}{cRhodo}{5}\eP{cadeB}{cBeta}{0}\eP{cBeta}{cacrB}{-15}\eP{cacrB}{cRhodo}{5}
\ePT{cAcidov}{cmexT}{-5}\eP{cAcidov}{cmexT}{8}\eP{cActino}{cRhodo}{-10}\eP{cIdeo}{cAlter}{-5}
\eP{cAlter}{cmexW}{10}\eP{cAlter}{cmexF}{-5}\eN{cAlter}{cAPH}{-10}\eN{cXanthom}{cLimno}{10}
\eP{cmexF}{cPlancto}{-5}\eP{cLimno}{csmeR}{15}\eP{cVerru}{cHyph}{25}\eP{cVerru}{cistBi}{-10}
\ePT{cHflava}{cHpseudo}{10}\eP{cLimno}{cereA}{10}\eN{cAcido}{cPlancto}{-10}\eN{cAcido}{cBurkhb}{-5}
\eN{cistAxiii}{cereA}{-20}\eP{ctnpAi}{cNovo}{0}\eP{ctnpAi}{cNovo}{8}\eP{ctnpAi}{cNovo}{-8}
\eP{cPoly}{cNovo}{30}\eP{ctnpAi}{cPoly}{10}\eP{ctnpAi}{cBurkhb}{-5}\ePT{ctnpAi}{cgamma}{-10}
\eP{ctnpAi}{ctnpAii}{5}\eP{ctnpAi}{cCaudo}{5}\eP{ctnpAi}{cCaudo}{-5}\eP{ctnpAi}{cAcido}{5}
\eP{ctnpAii}{cgamma}{10}\eP{ctnpAii}{cCaudo}{-5}\eP{cBurkhc}{cCaudo}{5}\eN{cPini}{ctnpAii}{5}
\eN{cPini}{ctnpAiv}{15}\eN{crpoBii}{cAlpha}{-5}\eP{crpoBii}{cPini}{10}\eP{cintI}{cPini}{-15}
\eN{csulii}{cintI}{15}\eP{cOXA}{cvanR}{15}\eN{cugd}{cISCR}{20}\eN{cInuF}{cPini}{-10}\eN{cdfrBii}{cPini}{0}
\ePT{cCaudo}{cCamp}{-10}\eP{cCaudo}{cRhodo}{5}\eP{cCaudo}{cAcidov}{5}\eP{cCaudo}{cAcidov}{-5}
\eP{cRhodo}{cCamp}{10}\eP{cRhodo}{cPoly}{-5}\eP{cBeta}{ctnpAii}{-5}\eP{cBeta}{crpoBii}{20}
\eP{ctnpAii}{cPoly}{5}\eP{cXanthom}{cCaudo}{5}
\end{pgfonlayer}
% ---------------- panel (d) ----------------
\node[panel] (pd) at (798,695) {(d)};
\nd{dIdeo}{spS}{1126}{702}{18}{Ideonella\_sp.\_4Y11}{1130}{703}
\nd{dclassA}{spA}{1211}{705}{17}{class A}{1224}{705}
\nd{dgamma}{spS}{1045}{726}{18}{gamma\_proteobacterium\_HdN1}{1058}{728}
\nd{dVerru}{spS}{1288}{730}{18}{Verrucomicrobia\_bacterium}{1298}{730}
\nd{dISCRi}{spM}{974}{767}{18}{ISCR1}{976}{767}
\nd{dISCR}{spM}{1105}{786}{18}{ISCR}{1106}{786}
\nd{dtnpAix}{spM}{1181}{779}{17}{tnpA9}{1182}{778}
\nd{distA}{spM}{1357}{771}{30}{istA}{1357}{771}
\nd{dtnpAv}{spM}{1255}{803}{24}{tnpA5}{1256}{804}
\nd{dHyph}{spS}{1032}{820}{20}{Hyphomicrobiales\_bacterium}{1043}{817}
\nd{dAlter}{spS}{917}{824}{26}{Altererythrobacter\_estronivorus}{927}{830}
\nd{distB}{spM}{1334}{843}{32}{istB}{1334}{843}
\nd{dInuF}{spA}{1418}{835}{20}{InuF}{1421}{835}
\nd{dtnpAiv}{spM}{1182}{862}{18}{tnpA4}{1183}{861}
\nd{dMacB}{spA}{1099}{867}{20}{MacB}{1099}{867}
\nd{dvanR}{spA}{978}{873}{18}{vanR}{981}{873}
\nd{dCamp}{spA}{1267}{883}{24}{Camp}{1269}{883}
\nd{dBactero}{spS}{876}{896}{18}{Bacteroidetes\_bacterium}{888}{897}
\nd{dugd}{spA}{1374}{910}{28}{ugd}{1374}{911}
\nd{dtnpA}{spM}{1456}{911}{24}{tnpA}{1456}{912}
\nd{dtniB}{spM}{942}{940}{22}{tniB}{942}{941}
\nd{dStentor}{spS}{1038}{927}{28}{Stentor\_coeruleus}{1043}{924}
\nd{dCaudo}{spS}{1132}{935}{34}{Caudovirales\_phage}{1136}{937}
\nd{dtniA}{spM}{1212}{942}{20}{tniA}{1212}{942}
\nd{dNovo}{spS}{1302}{950}{40}{Novosphingobium\_arvoryzae}{1314}{952}
\nd{dtnpAiii}{spM}{1395}{984}{28}{tnpA3}{1396}{985}
\nd{dIS}{spM}{1472}{991}{22}{IS}{1473}{991}
\nd{dmexW}{spA}{854}{976}{18}{mexW}{856}{976}
\nd{dOXA}{spA}{1001}{1001}{28}{OXA}{1001}{1001}
\nd{dNitro}{spS}{1078}{1001}{36}{Nitrospira\_sp.}{1083}{1003}
\nd{dRhodo}{spS}{923}{1019}{36}{Rhodocyclaceae\_bacterium}{935}{1019}
\nd{dsmeE}{spA}{1155}{1015}{20}{smeE}{1157}{1016}
\nd{dPoly}{spS}{1241}{1014}{34}{Polynucleobacter\_victoriensis}{1275}{1011}
\nd{dSphingo}{spS}{1323}{1027}{22}{Sphingobium\_fluviale}{1330}{1027}
\nd{dadeB}{spA}{856}{1061}{18}{adeB}{856}{1062}
\nd{dtetA}{spA}{1028}{1078}{20}{tetA}{1028}{1079}
\nd{dacrB}{spA}{1110}{1086}{22}{acrB}{1111}{1086}
\nd{dereA}{spA}{1387}{1071}{28}{ereA}{1387}{1071}
\nd{drpoBii}{spA}{1463}{1070}{26}{rpoB2}{1465}{1070}
\nd{dPlancto}{spS}{949}{1092}{34}{Planctomycetes\_bacterium}{962}{1092}
\nd{dqacH}{spA}{1196}{1087}{20}{qacH}{1197}{1088}
\nd{dChloro}{spS}{1280}{1094}{34}{Chloroflexi\_bacterium}{1288}{1094}
\nd{dsmeR}{spA}{881}{1137}{18}{smeR}{885}{1137}
\nd{dompR}{spA}{1346}{1140}{22}{ompR}{1348}{1135}
\nd{dAlpha}{spS}{1442}{1141}{26}{Alphaproteobacteria\_bacterium}{1462}{1146}
\nd{distBi}{spM}{993}{1161}{18}{istB1}{993}{1161}
\nd{distAiii}{spM}{1078}{1155}{20}{istA3}{1079}{1155}
\nd{dMuxB}{spA}{1158}{1163}{26}{MuxB}{1153}{1163}
\nd{dBurkhb}{spS}{1237}{1163}{28}{Burkholderiales\_bacterium}{1243}{1154}
\nd{dAPH}{spA}{923}{1198}{30}{APH(3")-I}{925}{1199}
\nd{dtnpAi}{spM}{1299}{1206}{20}{tnpA1}{1300}{1207}
\nd{dDelta}{spS}{1398}{1201}{18}{Deltaproteobacteria\_bacterium}{1423}{1200}
\nd{distAxi}{spM}{1048}{1225}{20}{istA11}{1048}{1225}
\nd{dHpseudo}{spS}{1127}{1240}{24}{Hydrogenophaga\_pseudoflava}{1116}{1243}
\nd{dBeta}{spS}{1210}{1240}{26}{Betaproteobacteria\_bacterium}{1237}{1234}
\nd{dsulii}{spA}{974}{1259}{20}{sul2}{974}{1259}
\nd{dHflava}{spS}{1350}{1263}{22}{Hydrogenophaga\_flava}{1360}{1265}
\nd{dbacA}{spA}{1280}{1293}{26}{bacA}{1280}{1294}
\nd{dmexF}{spA}{1042}{1302}{18}{mexF}{1052}{1302}
\nd{dXanthob}{spS}{1122}{1319}{18}{Xanthobacteraceae\_bacterium}{1130}{1314}
\nd{dmexT}{spA}{1202}{1317}{18}{mexT}{1202}{1329}
\begin{pgfonlayer}{edgelayer}
\ePT{dIdeo}{dtnpAix}{20}\eN{dclassA}{dVerru}{5}\eP{dgamma}{dOXA}{20}\eP{dISCRi}{dISCR}{15}
\eP{dHyph}{dOXA}{15}\ePT{dAlter}{dPlancto}{-35}\eP{dAlter}{dRhodo}{25}\eP{dAlter}{dtetA}{25}
\eP{dvanR}{dRhodo}{5}\eN{dBactero}{dtetA}{20}\eP{dtniB}{dRhodo}{5}
\eP{dStentor}{dPlancto}{10}\eP{dStentor}{dPlancto}{-5}\eP{dStentor}{dOXA}{5}\eP{dmexW}{dadeB}{-25}
\eP{dRhodo}{dOXA}{-10}\eP{dRhodo}{dPlancto}{5}\eP{dRhodo}{dPlancto}{-8}
\eP{dPlancto}{dAPH}{5}\eP{dPlancto}{dAPH}{-10}\eP{dPlancto}{dAPH}{15}\eP{dRhodo}{dAPH}{10}
\eNT{dsmeR}{dNitro}{10}\eP{dtetA}{dacrB}{-15}\ePT{dStentor}{dtetA}{-10}\eP{dtetA}{dAPH}{-5}
\eN{dMacB}{dNitro}{-20}\eN{dNitro}{dacrB}{20}\eP{dNitro}{dacrB}{-15}\eN{dNitro}{dsmeE}{0}
\ePT{dCaudo}{dNitro}{10}\eN{dsmeE}{distBi}{15}\eP{distAiii}{distAxi}{-10}\eP{distAiii}{dBeta}{5}
\eN{dsulii}{dBeta}{-10}\eN{dMuxB}{distAxi}{-10}\eN{dmexF}{dBurkhb}{-20}\eN{dXanthob}{dbacA}{10}
\eP{distA}{distB}{10}\eP{distA}{distB}{-10}\eP{distA}{dNovo}{-25}\ePT{distA}{dtnpAiii}{25}
\eP{distB}{dNovo}{5}\eP{distB}{dNovo}{-5}\eP{distB}{dNovo}{12}\eN{distB}{dInuF}{-15}\eP{distB}{dtnpAiii}{-10}
\eN{dInuF}{dtnpA}{25}\eP{dtnpAv}{dPoly}{-15}\eN{dtnpAv}{dqacH}{-25}\eP{dtnpAv}{dCaudo}{-5}
\eP{dtnpAiv}{dAlpha}{-30}\eN{dCamp}{dPoly}{-20}\eN{dCamp}{dSphingo}{-10}\eN{dCamp}{dugd}{-10}
\ePT{dugd}{dereA}{-30}\eP{dugd}{dNovo}{5}\eN{dugd}{dIS}{15}\eP{dtnpA}{dCaudo}{-5}\eP{dtnpA}{dAlpha}{-15}
\eN{dIS}{dereA}{-15}\eP{dNovo}{dtnpAiii}{5}\eP{dtniA}{dtnpAiii}{-5}\eP{dPoly}{dNovo}{5}
\eP{dNovo}{dChloro}{10}\eP{dNovo}{dSphingo}{5}\eN{dPoly}{dChloro}{-10}\eP{dChloro}{dereA}{-10}
\eN{dChloro}{dHpseudo}{15}\eN{dSphingo}{dereA}{0}\eN{drpoBii}{dompR}{8}\eN{drpoBii}{dompR}{-8}
\eP{drpoBii}{dtnpAi}{5}\eN{dompR}{dbacA}{-10}\eP{dAlpha}{dDelta}{-10}\eP{dereA}{dAlpha}{-5}
\eP{dBurkhb}{dHflava}{-10}\eN{dBurkhb}{dtnpAi}{5}\eP{dtnpAi}{dbacA}{5}\eNT{dtnpAi}{dbacA}{-5}
\eP{dBeta}{dHflava}{5}\eN{dBeta}{dbacA}{10}\eP{dMuxB}{dHpseudo}{10}\eP{dHpseudo}{dbacA}{-10}
\eP{distAiii}{dHflava}{-5}\eN{dCaudo}{dPoly}{-10}\eN{dRhodo}{dsmeE}{10}\eP{dtnpAiv}{dCaudo}{5}
\eP{dHyph}{dStentor}{-10}\eP{dCaudo}{dtniA}{5}\eP{dCaudo}{dSphingo}{-5}\eP{dCaudo}{dereA}{-8}
\eP{dNovo}{dereA}{5}\eP{dtniA}{dPoly}{5}\eP{dBurkhb}{dAlpha}{-5}
\end{pgfonlayer}
% ---------------- legend ----------------
\node[legbold] (lg1) at (3,1393) {Edge color};
\coordinate (lp1) at (143,1391); \coordinate (lp2) at (203,1391);
\draw[pe,line width=1.6pt] (lp1) -- (lp2);
\node[legtxt] (lg2) at (216,1394) {positive correlations};
\coordinate (ln1) at (453,1391); \coordinate (ln2) at (513,1391);
\draw[ne,line width=1.6pt] (ln1) -- (ln2);
\node[legtxt] (lg3) at (525,1394) {negative correlations};
\node[legbold] (lg4) at (789,1393) {Node color};
\node[spS,minimum size=26pt] (lgs) at (958,1393) {};
\node[legtxt] (lg5) at (988,1394) {species};
\node[spA,minimum size=26pt] (lga) at (1118,1393) {};
\node[legtxt] (lg6) at (1149,1394) {ARG subtypes};
\node[spM,minimum size=26pt] (lgm) at (1348,1393) {};
\node[legtxt] (lg7) at (1379,1394) {MGE subtypes};
\end{tikzpicture}
\end{document}
